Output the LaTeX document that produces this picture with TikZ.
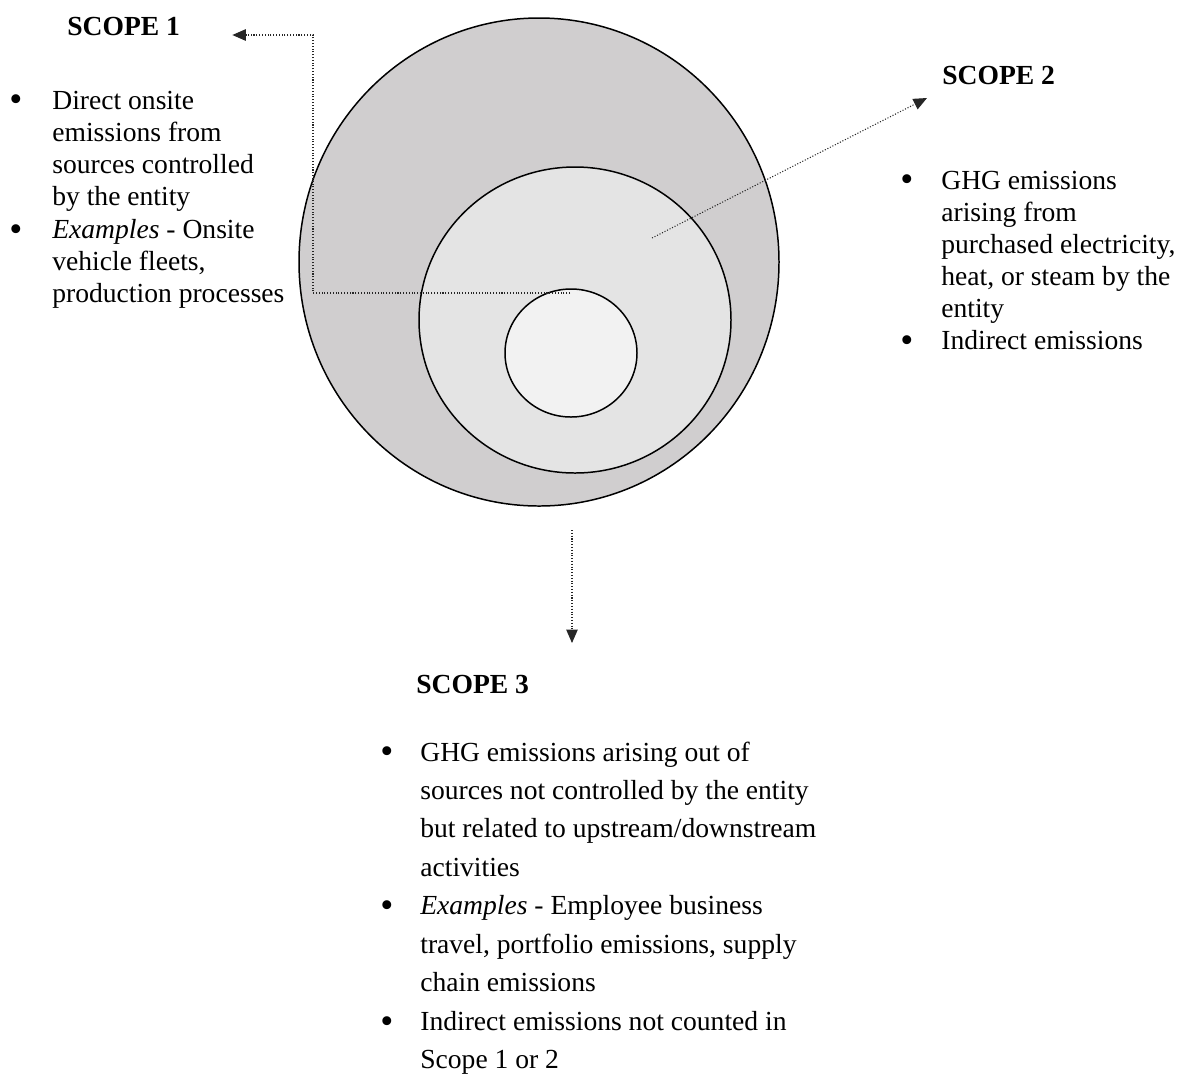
\documentclass[tikz,border=0pt]{standalone}
\usepackage{fontspec}
\setmainfont{Liberation Serif}
\usetikzlibrary{positioning,arrows.meta}
\definecolor{outergray}{HTML}{D0CECF}
\definecolor{midgray}{HTML}{E4E4E4}
\definecolor{innergray}{HTML}{F2F2F2}
\newcommand{\bul}{\raisebox{-0.1em}{\scalebox{1.35}{\textbullet}}}

\begin{document}
\begin{tikzpicture}[x=0.02cm,y=-0.02cm,
ring/.style={draw=black,line width=0.85pt},
link/.style={densely dotted,line width=0.6pt,draw=black!85,
    -{Triangle[length=0.27cm,width=0.23cm]}},
head/.style={anchor=base west,inner sep=0pt,font=\fontsize{15.7}{18}\selectfont\bfseries},
items/.style={anchor=base west,inner sep=0pt,font=\fontsize{15.7}{#1}\selectfont}]
\useasboundingbox (0,0) rectangle (1180,1073);
\fill[white] (0,0) rectangle (1180,1073);
\draw[ring,fill=outergray] (539,262) ellipse [x radius=240,y radius=244];
\draw[ring,fill=midgray] (575,320) ellipse [x radius=156,y radius=153];
\draw[ring,fill=innergray] (571,353) ellipse [x radius=66,y radius=64];

\node (scope1) [head] at (67,35) {SCOPE 1};
\node (scope2) [head] at (942,84) {SCOPE 2};
\node (scope3) [head] at (416,693) {SCOPE 3};

\node (list1) [items=18.4pt] at (9,109) {\begin{tabular}[t]{@{}p{0.86cm}@{}l@{}}
\bul & Direct onsite\\
     & emissions from\\
     & sources controlled\\
     & by the entity\\
\bul & \textit{Examples} - Onsite\\
     & vehicle fleets,\\
     & production processes
\end{tabular}};
\node (list2) [items=18.25pt] at (900,189) {\begin{tabular}[t]{@{}p{0.82cm}@{}l@{}}
\bul & GHG emissions\\
     & arising from\\
     & purchased electricity,\\
     & heat, or steam by the\\
     & entity\\
\bul & Indirect emissions
\end{tabular}};
\node (list3) [items=21.9pt] at (380,761) {\begin{tabular}[t]{@{}p{0.8cm}@{}l@{}}
\bul & GHG emissions arising out of\\
     & sources not controlled by the entity\\
     & but related to upstream/downstream\\
     & activities\\
\bul & \textit{Examples} - Employee business\\
     & travel, portfolio emissions, supply\\
     & chain emissions\\
\bul & Indirect emissions not counted in\\
     & Scope 1 or 2
\end{tabular}};

\coordinate (from1) at (570,293);
\coordinate (from2) at (652,238);
\coordinate (from3) at (572,530);
\coordinate (to1) at ([xshift=1.04cm]scope1.base east);
\coordinate (to2) at (927,98);
\coordinate (to3) at (572,643);
\draw[link] (from1) -- (313,293) |- (to1);
\draw[link] (from2) -- (to2);
\draw[link] (from3) -- (to3);
\end{tikzpicture}
\end{document}
